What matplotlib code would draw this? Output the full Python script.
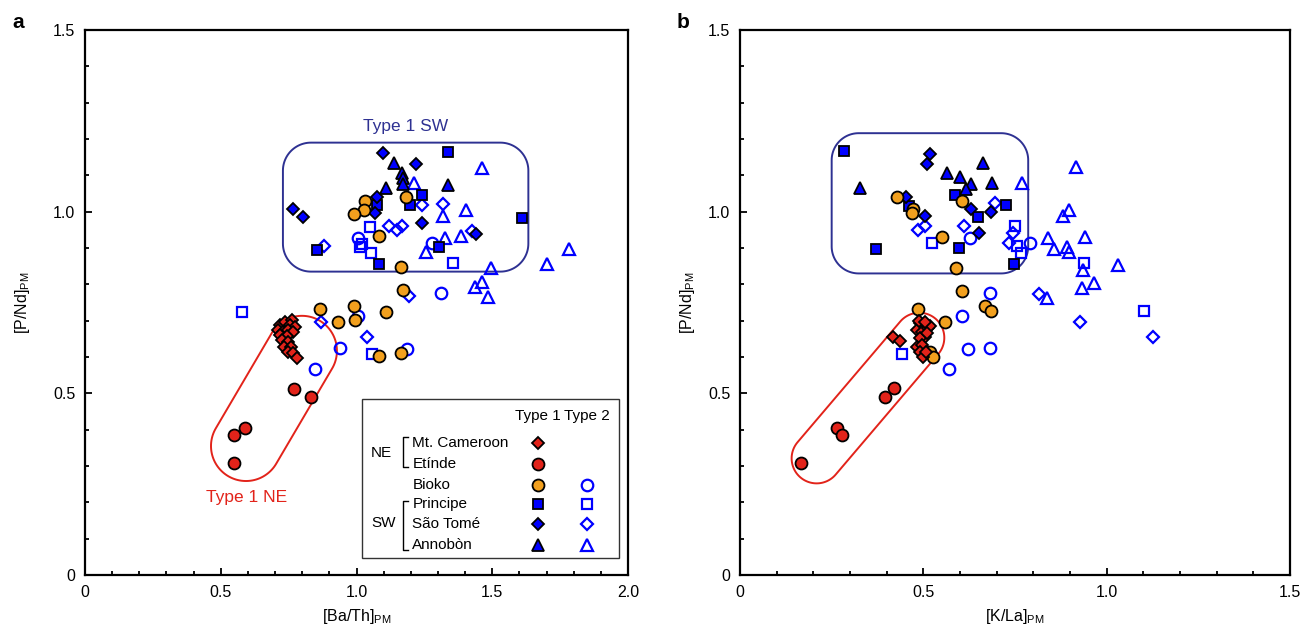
import numpy as np
import matplotlib
matplotlib.use("Agg")
import matplotlib.pyplot as plt
from matplotlib.patches import Polygon
from matplotlib.lines import Line2D

plt.rcParams['font.family'] = ['Liberation Sans', 'DejaVu Sans']
plt.rcParams['mathtext.fontset'] = 'custom'
plt.rcParams['mathtext.rm'] = 'Liberation Sans'

# ---- panel a : [Ba/Th]PM vs [P/Nd]PM ----
cam_a_x = [0.718, 0.737, 0.761, 0.755, 0.773, 0.712, 0.730, 0.749, 0.767, 0.718,
           0.743, 0.724, 0.749, 0.733, 0.758, 0.749, 0.767, 0.782]
cam_a_y = [0.688, 0.697, 0.702, 0.688, 0.683, 0.674, 0.670, 0.674, 0.670, 0.661,
           0.658, 0.647, 0.642, 0.628, 0.628, 0.615, 0.610, 0.596]
eti_a_x = [0.771, 0.832, 0.589, 0.550, 0.549]
eti_a_y = [0.512, 0.491, 0.405, 0.385, 0.307]
bio1_a_x = [1.031, 1.183, 1.029, 0.991, 1.084, 1.163, 1.172, 0.866, 0.991, 1.107,
            0.933, 0.994, 1.083, 1.163]
bio1_a_y = [1.030, 1.040, 1.005, 0.994, 0.933, 0.847, 0.784, 0.732, 0.739, 0.725,
            0.695, 0.702, 0.603, 0.612]
bio2_a_x = [1.004, 1.279, 1.004, 0.939, 1.187, 0.847, 1.311]
bio2_a_y = [0.927, 0.915, 0.713, 0.624, 0.622, 0.567, 0.775]
pri1_a_x = [1.336, 1.242, 1.077, 1.196, 1.611, 1.305, 0.853, 1.084]
pri1_a_y = [1.163, 1.046, 1.018, 1.017, 0.982, 0.902, 0.895, 0.856]
pri2_a_x = [0.577, 1.050, 1.013, 1.053, 1.354, 1.056, 1.020]
pri2_a_y = [0.723, 0.959, 0.904, 0.885, 0.858, 0.608, 0.912]
sao1_a_x = [1.099, 1.218, 1.077, 1.069, 0.765, 0.804, 1.240, 1.440]
sao1_a_y = [1.161, 1.130, 1.040, 0.997, 1.007, 0.985, 0.968, 0.939]
sao2_a_x = [1.240, 1.320, 1.121, 1.166, 1.148, 1.427, 0.881, 0.868, 1.037, 1.195]
sao2_a_y = [1.018, 1.021, 0.961, 0.961, 0.950, 0.948, 0.906, 0.695, 0.654, 0.768]
ann1_a_x = [1.138, 1.169, 1.170, 1.172, 1.338, 1.107]
ann1_a_y = [1.133, 1.106, 1.092, 1.076, 1.073, 1.064]
ann2_a_x = [1.462, 1.212, 1.320, 1.403, 1.385, 1.326, 1.255, 1.497, 1.784, 1.703,
            1.461, 1.436, 1.486]
ann2_a_y = [1.121, 1.078, 0.988, 1.005, 0.933, 0.927, 0.890, 0.845, 0.896, 0.855,
            0.807, 0.794, 0.764]

# ---- panel b : [K/La]PM vs [P/Nd]PM ----
cam_b_x = [0.416, 0.436, 0.491, 0.500, 0.482, 0.495, 0.514, 0.518, 0.504, 0.491,
           0.482, 0.495, 0.491, 0.500, 0.507, 0.487, 0.505, 0.510]
cam_b_y = [0.656, 0.644, 0.693, 0.684, 0.674, 0.670, 0.679, 0.684, 0.656, 0.652,
           0.628, 0.633, 0.615, 0.601, 0.615, 0.700, 0.695, 0.665]
eti_b_x = [0.421, 0.395, 0.264, 0.277, 0.166]
eti_b_y = [0.516, 0.491, 0.405, 0.385, 0.307]
bio1_b_x = [0.429, 0.473, 0.468, 0.606, 0.552, 0.590, 0.605, 0.486, 0.668, 0.684,
            0.559, 0.518, 0.525]
bio1_b_y = [1.041, 1.007, 0.995, 1.028, 0.931, 0.846, 0.782, 0.732, 0.740, 0.727,
            0.697, 0.615, 0.601]
bio2_b_x = [0.627, 0.791, 0.682, 0.606, 0.623, 0.682, 0.571]
bio2_b_y = [0.927, 0.913, 0.775, 0.713, 0.622, 0.626, 0.567]
pri1_b_x = [0.284, 0.462, 0.586, 0.650, 0.725, 0.371, 0.597, 0.747]
pri1_b_y = [1.167, 1.016, 1.046, 0.985, 1.018, 0.896, 0.901, 0.856]
pri2_b_x = [0.523, 0.750, 0.756, 0.766, 0.939, 1.102, 0.441]
pri2_b_y = [0.913, 0.961, 0.906, 0.885, 0.860, 0.727, 0.607]
sao1_b_x = [0.518, 0.509, 0.453, 0.629, 0.684, 0.504, 0.653]
sao1_b_y = [1.159, 1.130, 1.041, 1.007, 0.998, 0.988, 0.941]
sao2_b_x = [0.695, 0.504, 0.486, 0.612, 0.745, 0.734, 0.815, 0.927, 1.125]
sao2_b_y = [1.023, 0.961, 0.950, 0.961, 0.941, 0.913, 0.773, 0.696, 0.656]
ann1_b_x = [0.662, 0.564, 0.600, 0.629, 0.615, 0.688, 0.327]
ann1_b_y = [1.133, 1.106, 1.096, 1.076, 1.062, 1.080, 1.066]
ann2_b_x = [0.916, 0.768, 0.898, 0.882, 0.841, 0.857, 0.891, 0.897, 0.941, 0.936,
            1.032, 0.965, 0.932, 0.838]
ann2_b_y = [1.124, 1.078, 1.005, 0.989, 0.927, 0.896, 0.904, 0.890, 0.929, 0.840,
            0.853, 0.805, 0.791, 0.763]

RED = '#e2231a'
ORANGE = '#f2a01e'
BLUE = '#0000ff'
NAVY = '#2e3192'

# marker styles: (marker, size, face, edge, edge width)
st = {
    'cam': ('D', 6.6, RED, 'black', 1.3),
    'eti': ('o', 8.6, RED, 'black', 1.3),
    'bio1': ('o', 8.6, ORANGE, 'black', 1.3),
    'bio2': ('o', 8.3, 'none', BLUE, 1.6),
    'pri1': ('s', 7.8, BLUE, 'black', 1.3),
    'pri2': ('s', 7.6, 'none', BLUE, 1.6),
    'sao1': ('D', 6.6, BLUE, 'black', 1.3),
    'sao2': ('D', 6.4, 'none', BLUE, 1.6),
    'ann1': ('^', 9.0, BLUE, 'black', 1.3),
    'ann2': ('^', 8.8, 'none', BLUE, 1.6),
}


def pts(ax, x, y, key, z=3):
    m, ms, fc, ec, mew = st[key]
    ax.plot(x, y, ls='none', marker=m, ms=ms, mfc=fc, mec=ec, mew=mew, zorder=z)


def to_data(ax, disp):
    return ax.transData.inverted().transform(disp)


def capsule(ax, p1, p2, r, color):
    # stadium shape drawn in pixel space so it is not stretched
    c1 = ax.transData.transform(p1)
    c2 = ax.transData.transform(p2)
    d = c1 - c2
    phi = np.arctan2(d[1], d[0])
    t1 = np.linspace(phi - np.pi / 2, phi + np.pi / 2, 60)
    t2 = np.linspace(phi + np.pi / 2, phi + 3 * np.pi / 2, 60)
    a1 = np.c_[c1[0] + r * np.cos(t1), c1[1] + r * np.sin(t1)]
    a2 = np.c_[c2[0] + r * np.cos(t2), c2[1] + r * np.sin(t2)]
    v = to_data(ax, np.vstack([a1, a2]))
    ax.add_patch(Polygon(v, closed=True, fill=False, ec=color, lw=1.4, zorder=2))


def rbox(ax, x0, y0, x1, y1, r, color):
    p0 = ax.transData.transform((x0, y0))
    p1 = ax.transData.transform((x1, y1))
    corners = [((p1[0] - r, p1[1] - r), 0), ((p0[0] + r, p1[1] - r), 90),
               ((p0[0] + r, p0[1] + r), 180), ((p1[0] - r, p0[1] + r), 270)]
    vv = []
    for (cx, cy), a in corners:
        t = np.radians(np.linspace(a, a + 90, 25))
        vv.append(np.c_[cx + r * np.cos(t), cy + r * np.sin(t)])
    v = to_data(ax, np.vstack(vv))
    ax.add_patch(Polygon(v, closed=True, fill=False, ec=color, lw=1.4, zorder=2))


def style(ax, xmax, xticks, xlabel, ypad):
    ax.set_xlim(0, xmax)
    ax.set_ylim(0, 1.5)
    ax.set_xticks(xticks)
    ax.set_xticklabels(['0'] + ['%.1f' % t for t in xticks[1:]])
    ax.set_xticks(np.arange(0, xmax + 0.001, 0.1), minor=True)
    ax.set_yticks([0, 0.5, 1.0, 1.5])
    ax.set_yticklabels(['0', '0.5', '1.0', '1.5'])
    ax.set_yticks(np.arange(0, 1.501, 0.1), minor=True)
    ax.tick_params(which='both', direction='in', width=1.3, labelsize=11.5, pad=7)
    ax.tick_params(which='major', length=5)
    ax.tick_params(which='minor', length=3)
    for s in ax.spines.values():
        s.set_linewidth(1.6)
    ax.set_xlabel(xlabel, fontsize=11.5, labelpad=5)
    ax.set_ylabel(r'[P/Nd]$_{\mathrm{PM}}$', fontsize=11.5, labelpad=ypad)


fig = plt.figure(figsize=(13.05, 6.33), dpi=100)
axa = fig.add_axes([85 / 1305, 58 / 633, 543 / 1305, 545 / 633])
axb = fig.add_axes([740 / 1305, 58 / 633, 550 / 1305, 545 / 633])

style(axa, 2.0, [0, 0.5, 1.0, 1.5, 2.0], r'[Ba/Th]$_{\mathrm{PM}}$', 15)
style(axb, 1.5, [0, 0.5, 1.0, 1.5], r'[K/La]$_{\mathrm{PM}}$', 8)

# panel a
pts(axa, bio2_a_x, bio2_a_y, 'bio2')
pts(axa, pri2_a_x, pri2_a_y, 'pri2')
pts(axa, sao2_a_x, sao2_a_y, 'sao2')
pts(axa, ann2_a_x, ann2_a_y, 'ann2')
pts(axa, pri1_a_x, pri1_a_y, 'pri1', 4)
pts(axa, sao1_a_x, sao1_a_y, 'sao1', 4)
pts(axa, ann1_a_x, ann1_a_y, 'ann1', 4)
pts(axa, bio1_a_x, bio1_a_y, 'bio1', 4)
pts(axa, eti_a_x, eti_a_y, 'eti', 4)
pts(axa, cam_a_x, cam_a_y, 'cam', 4)

rbox(axa, 0.729, 0.835, 1.633, 1.190, 28, NAVY)
capsule(axa, (0.799, 0.617), (0.593, 0.355), 35, RED)
axa.text(1.179, 1.234, 'Type 1 SW', color=NAVY, fontsize=12.5, ha='center', va='center')
axa.text(0.596, 0.214, 'Type 1 NE', color=RED, fontsize=12.5, ha='center', va='center')

# panel b
pts(axb, bio2_b_x, bio2_b_y, 'bio2')
pts(axb, pri2_b_x, pri2_b_y, 'pri2')
pts(axb, sao2_b_x, sao2_b_y, 'sao2')
pts(axb, ann2_b_x, ann2_b_y, 'ann2')
pts(axb, pri1_b_x, pri1_b_y, 'pri1', 4)
pts(axb, sao1_b_x, sao1_b_y, 'sao1', 4)
pts(axb, ann1_b_x, ann1_b_y, 'ann1', 4)
pts(axb, bio1_b_x, bio1_b_y, 'bio1', 4)
pts(axb, eti_b_x, eti_b_y, 'eti', 4)
pts(axb, cam_b_x, cam_b_y, 'cam', 4)

rbox(axb, 0.250, 0.830, 0.786, 1.216, 27, NAVY)
capsule(axb, (0.489, 0.653), (0.209, 0.321), 25, RED)

# hand-made legend in panel a (axes fraction coords)
T = axa.transAxes
axa.add_patch(plt.Rectangle((0.511, 0.031), 0.472, 0.292, transform=T, fill=False,
                            ec='#333333', lw=1.0, zorder=5))
axa.text(0.834, 0.292, 'Type 1', transform=T, ha='center', va='center', fontsize=11, zorder=6)
axa.text(0.925, 0.292, 'Type 2', transform=T, ha='center', va='center', fontsize=11, zorder=6)
rows = [('Mt. Cameroon', 'cam', None), ('Etínde', 'eti', None), ('Bioko', 'bio1', 'bio2'),
        ('Principe', 'pri1', 'pri2'), ('São Tomé', 'sao1', 'sao2'), ('Annobòn', 'ann1', 'ann2')]
row_y = [0.243, 0.204, 0.166, 0.130, 0.093, 0.055]
for (name, k1, k2), yy in zip(rows, row_y):
    axa.text(0.603, yy, name, transform=T, ha='left', va='center', fontsize=11, zorder=6)
    for k, xx in ((k1, 0.834), (k2, 0.925)):
        if k is None:
            continue
        m, ms, fc, ec, mew = st[k]
        axa.add_line(Line2D([xx], [yy], transform=T, ls='none', marker=m, ms=ms,
                            mfc=fc, mec=ec, mew=mew, zorder=6))
axa.text(0.527, 0.224, 'NE', transform=T, ha='left', va='center', fontsize=11, zorder=6)
axa.text(0.527, 0.095, 'SW', transform=T, ha='left', va='center', fontsize=11, zorder=6)
for y0, y1 in ((0.254, 0.199), (0.136, 0.046)):
    axa.add_line(Line2D([0.595, 0.586, 0.586, 0.595], [y0, y0, y1, y1], transform=T,
                        color='black', lw=1.0, zorder=6))

fig.text(18 / 1305, 1 - 22 / 633, 'a', fontsize=15, fontweight='bold', ha='center', va='center')
fig.text(683 / 1305, 1 - 22 / 633, 'b', fontsize=15, fontweight='bold', ha='center', va='center')

fig.savefig('out.png', dpi=100)
